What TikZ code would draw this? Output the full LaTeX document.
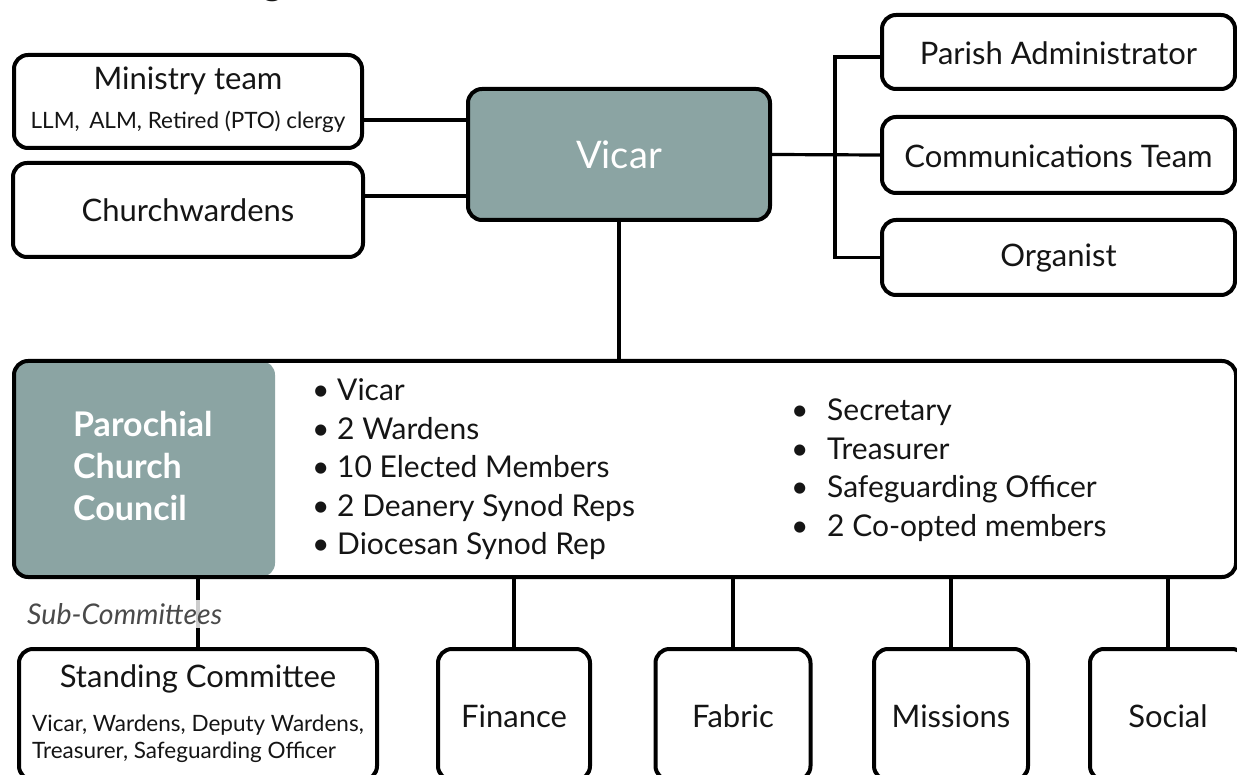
\documentclass[tikz,border=0pt]{standalone}
\usepackage{fontspec}
\setmainfont{Lato}
\definecolor{pccgray}{HTML}{8BA4A3}
\definecolor{ink}{HTML}{151515}
\definecolor{subgray}{HTML}{4A4A4A}
\begin{document}
\begin{tikzpicture}[x=1pt,y=-1pt,
  box/.style={draw=black, line width=4pt, rounded corners=14pt, fill=white, inner sep=0pt, text=ink},
  conn/.style={draw=black, line width=3.2pt},
  big/.style={font=\fontsize{31}{36}\selectfont, text=ink, inner sep=0pt},
  small/.style={font=\fontsize{22.5}{27}\selectfont, text=ink, inner sep=0pt},
  listtxt/.style={font=\fontsize{30}{38.5}\selectfont, text=ink, inner sep=0pt, align=left, anchor=west}
]
\useasboundingbox (0,0) rectangle (1237,775);

% cut-off title fragment
\begin{scope}
\clip (0,0) rectangle (1237,775);
\node[anchor=base, font=\fontsize{40}{40}\selectfont, text=ink, inner sep=0pt] (titleg) at (273,-5) {g};
\end{scope}

% top-left boxes
\node[box, minimum width=348pt, minimum height=93pt] (ministry) at (188,101.5) {};
\node[big] (ministryT) at (188,81) {Ministry team};
\node[small] (ministryS) at (188,122) {LLM,\, ALM, Retired (PTO) clergy};

\node[box, minimum width=350pt, minimum height=94pt] (wardens) at (188,210) {};
\node[big] (wardensT) at (188,210) {Churchwardens};

% Vicar
\node[box, fill=pccgray, minimum width=302pt, minimum height=131pt,
      font=\fontsize{38}{40}\selectfont, text=white] (vicar) at (619,154.5) {Vicar};

% right boxes
\node[box, minimum width=353pt, minimum height=74pt] (parish) at (1058.5,52) {};
\node[big] (parishT) at (1058.5,53) {Parish Administrator};
\node[box, minimum width=353pt, minimum height=76pt] (comms) at (1058.5,155) {};
\node[big] (commsT) at (1058.5,156) {Communications Team};
\node[box, minimum width=353pt, minimum height=75pt] (organist) at (1058.5,257.5) {};
\node[big] (organistT) at (1058.5,258.5) {Organist};

% PCC
\node[box, minimum width=1222pt, minimum height=216pt,
  path picture={\fill[pccgray] (path picture bounding box.north west) rectangle ([xshift=261pt]path picture bounding box.south west);}] (pcc) at (625,469) {};
\node[font=\fontsize{34}{42}\selectfont\bfseries, text=white, align=left, anchor=west, inner sep=0pt] (pccT) at (73,466) {Parochial\\Church\\Council};
\node[listtxt] (listL) at (312,469.5) {%
\makebox[25pt][l]{\textbullet}Vicar\\
\makebox[25pt][l]{\textbullet}2 Wardens\\
\makebox[25pt][l]{\textbullet}10 Elected Members\\
\makebox[25pt][l]{\textbullet}2 Deanery Synod Reps\\
\makebox[25pt][l]{\textbullet}Diocesan Synod Rep};
\node[listtxt] (listR) at (791,470) {%
\makebox[36pt][l]{\textbullet}Secretary\\
\makebox[36pt][l]{\textbullet}Treasurer\\
\makebox[36pt][l]{\textbullet}Safeguarding Officer\\
\makebox[36pt][l]{\textbullet}2 Co-opted members};

% bottom boxes
\node[box, minimum width=358pt, minimum height=131pt] (standing) at (198,714.5) {};
\node[big] (standingT) at (198,679) {Standing Committee};
\node[small, align=left, anchor=west] (standingS) at (32,739) {Vicar, Wardens, Deputy Wardens,\\Treasurer, Safeguarding Officer};
\node[box, minimum width=152pt, minimum height=131pt] (finance) at (514,714.5) {};
\node[big] (financeT) at (514,716) {Finance};
\node[box, minimum width=155pt, minimum height=131pt] (fabric) at (733,714.5) {};
\node[big] (fabricT) at (733,716) {Fabric};
\node[box, minimum width=154pt, minimum height=131pt] (missions) at (951,714.5) {};
\node[big] (missionsT) at (951,716) {Missions};
\node[box, minimum width=156pt, minimum height=131pt] (social) at (1168,714.5) {};
\node[big] (socialT) at (1168,716) {Social};

% connectors
\draw[conn] (vicar.west |- 0,120) -- (ministry.east |- 0,120);
\draw[conn] (vicar.west |- 0,196) -- (wardens.east |- 0,196);
\coordinate (trunk) at (835,155);
\draw[conn] (vicar.east) -- (comms.west);
\draw[conn] ([yshift=-5pt]parish.west) -| (trunk) |- (organist.west);
\draw[conn] (vicar.south) -- (vicar.south |- pcc.north);
\draw[conn] (standing.north |- pcc.south) -- (standing.north);
\draw[conn] (finance.north |- pcc.south) -- (finance.north);
\draw[conn] (fabric.north |- pcc.south) -- (fabric.north);
\draw[conn] (missions.north |- pcc.south) -- (missions.north);
\draw[conn] (social.north |- pcc.south) -- (social.north);

\node[anchor=west, font=\fontsize{28.5}{30}\selectfont\itshape, text=subgray,
      fill=white, fill opacity=0.8, text opacity=1, inner sep=3pt] (subc) at (24,614) {Sub-Committees};
\end{tikzpicture}
\end{document}
